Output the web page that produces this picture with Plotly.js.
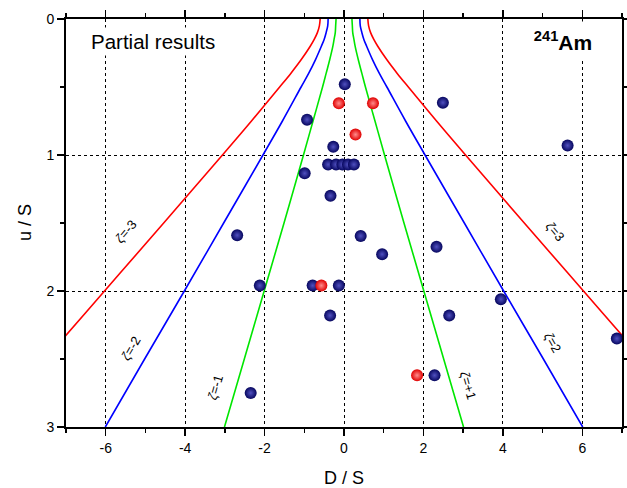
<!DOCTYPE html>
<html>
<head>
<meta charset="utf-8">
<script src="https://cdn.plot.ly/plotly-3.0.1.min.js"></script>
<style>html,body{margin:0;padding:0;background:#fff;}#chart{width:627px;height:488px;}</style>
</head>
<body>
<div id="chart"></div>
<script>
// Blue (navy) data points
const blueD = [0.02, -0.93, -0.27, -0.40, -0.20, -0.04, 0.10, 0.25, -0.99, -0.34, 2.49, 5.63,
               -2.69, 0.42, -2.12, -0.79, -0.13, -0.35, -2.35, 0.96, 2.33, 3.95, 2.65, 6.87, 2.28];
const blueU = [0.48, 0.74, 0.94, 1.07, 1.07, 1.07, 1.07, 1.07, 1.135, 1.30, 0.615, 0.93,
               1.59, 1.595, 1.96, 1.96, 1.96, 2.18, 2.75, 1.73, 1.675, 2.06, 2.18, 2.35, 2.62];
// Red data points
const redD = [-0.13, 0.73, 0.29, -0.57, 1.84];
const redU = [0.62, 0.62, 0.85, 1.96, 2.62];

// Curves zeta = +-1, +-2, +-3
const curveU   = [0, 0.05, 0.1, 0.15, 0.2, 0.3, 0.4, 0.5, 0.75, 1, 1.5, 2, 2.5, 3];
const zetaP1   = [0.20, 0.21, 0.22, 0.25, 0.28, 0.36, 0.45, 0.54, 0.78, 1.02, 1.51, 2.01, 2.51, 3.01];
const zetaM1   = [-0.20, -0.21, -0.22, -0.25, -0.28, -0.36, -0.45, -0.54, -0.78, -1.02, -1.51, -2.01, -2.51, -3.01];
const zetaP2   = [0.40, 0.41, 0.45, 0.50, 0.57, 0.72, 0.89, 1.08, 1.55, 2.04, 3.03, 4.02, 5.02, 6.01];
const zetaM2   = [-0.40, -0.41, -0.45, -0.50, -0.57, -0.72, -0.89, -1.08, -1.55, -2.04, -3.03, -4.02, -5.02, -6.01];
const zetaP3   = [0.60, 0.62, 0.67, 0.75, 0.85, 1.08, 1.34, 1.62, 2.33, 3.06, 4.54, 6.03, 7.52, 9.02];
const zetaM3   = [-0.60, -0.62, -0.67, -0.75, -0.85, -1.08, -1.34, -1.62, -2.33, -3.06, -4.54, -6.03, -7.52, -9.02];

const curveLabels = ['<i>ζ</i>=-3', '<i>ζ</i>=-2', '<i>ζ</i>=-1', '<i>ζ</i>=3', '<i>ζ</i>=2', '<i>ζ</i>=+1'];
const xTickVals = [-6, -4, -2, 0, 2, 4, 6];
const xTickText = ['-6', '-4', '-2', '0', '2', '4', '6'];
const yTickVals = [0, 1, 2, 3];
const yTickText = ['0', '1', '2', '3'];
const xTitle = 'D / S';
const yTitle = 'u / S';

function line(x, color) {
  return {x: x, y: curveU, type: 'scatter', mode: 'lines', line: {color: color, width: 1.6, shape: 'spline'},
          hoverinfo: 'skip', showlegend: false};
}

const traces = [
  line(zetaM3, '#ff0000'), line(zetaP3, '#ff0000'),
  line(zetaM2, '#0000ff'), line(zetaP2, '#0000ff'),
  line(zetaM1, '#00e600'), line(zetaP1, '#00e600'),
  {x: blueD, y: blueU, type: 'scatter', mode: 'markers', showlegend: false, cliponaxis: false,
   marker: {size: 12, color: '#06065e', line: {width: 0}, gradient: {type: 'radial', color: '#5050c0'}}},
  {x: redD, y: redU, type: 'scatter', mode: 'markers', showlegend: false, cliponaxis: false,
   marker: {size: 12, color: '#e00000', line: {width: 0}, gradient: {type: 'radial', color: '#ff8c8c'}}}
];

const FONT = 'Liberation Sans, Arial, sans-serif';
const labelFont = {family: FONT, size: 13, color: '#000'};
const labelPos = [[-5.50, 1.56, -50], [-5.37, 2.42, -60], [-3.24, 2.71, -74],
                  [5.32, 1.56, 50], [5.25, 2.38, 60], [3.11, 2.69, 74]];
const annotations = curveLabels.map((t, i) => ({
  x: labelPos[i][0], y: labelPos[i][1], xref: 'x', yref: 'y', text: t, showarrow: false,
  textangle: labelPos[i][2], font: labelFont
}));
annotations.push({x: 0.04, y: 0.945, xref: 'paper', yref: 'paper', xanchor: 'left', yanchor: 'middle',
  text: 'Partial results', showarrow: false, bgcolor: '#fff', borderpad: 2,
  font: {family: FONT, size: 20.5, color: '#000'}});
annotations.push({x: 0.957, y: 0.995, xref: 'paper', yref: 'paper', xanchor: 'right', yanchor: 'top',
  text: '<b><sup>241</sup>Am</b>', showarrow: false, bgcolor: '#fff', borderpad: 1,
  width: 66, height: 36, align: 'center', valign: 'middle',
  font: {family: FONT, size: 21, color: '#000'}});
annotations.push({x: 0.5, y: -0.125, xref: 'paper', yref: 'paper', xanchor: 'center', yanchor: 'middle',
  text: xTitle, showarrow: false, font: {family: FONT, size: 18, color: '#000'}});
annotations.push({x: -0.0737, y: 0.5, xref: 'paper', yref: 'paper', xanchor: 'center', yanchor: 'middle',
  text: yTitle, showarrow: false, textangle: -90, font: {family: FONT, size: 18, color: '#000'}});

const axisCommon = {
  showline: true, linecolor: '#000', linewidth: 2, mirror: 'ticks',
  ticks: 'outside', ticklen: 7, tickwidth: 1.5, tickcolor: '#000',
  showgrid: true, gridcolor: '#000', gridwidth: 1, griddash: 'dot',
  zeroline: false,
  tickfont: {family: FONT, size: 14, color: '#000'}
};

const layout = {
  width: 627, height: 488,
  margin: {l: 66, r: 5, t: 19, b: 61},
  paper_bgcolor: '#fff', plot_bgcolor: '#fff',
  xaxis: Object.assign({}, axisCommon, {
    range: [-7, 7], tickmode: 'array', tickvals: xTickVals, ticktext: xTickText,
    minor: {dtick: 1, tick0: 1, ticklen: 4, tickwidth: 1.5, tickcolor: '#000', ticks: 'outside', showgrid: false}
  }),
  yaxis: Object.assign({}, axisCommon, {
    range: [3, 0], tickmode: 'array', tickvals: yTickVals, ticktext: yTickText,
    minor: {dtick: 0.5, tick0: 0, ticklen: 4, tickwidth: 1.5, tickcolor: '#000', ticks: 'outside', showgrid: false}
  }),
  annotations: annotations,
  showlegend: false
};

Plotly.newPlot('chart', traces, layout, {displayModeBar: false, staticPlot: true});
</script>
</body>
</html>
